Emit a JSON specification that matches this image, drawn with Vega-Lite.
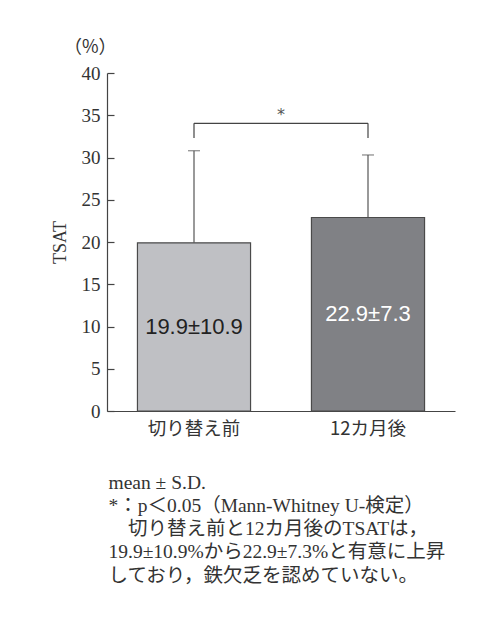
{
  "$schema": "https://vega.github.io/schema/vega-lite/v6.json",
  "autosize": "none",
  "width": 348,
  "height": 338,
  "padding": {"left": 107, "top": 73, "right": 37, "bottom": 210},
  "background": "white",
  "config": {"view": {"stroke": null}, "axis": {"grid": false}},
  "title": {"text": "（%）", "anchor": "start", "frame": "group", "dx": -43, "offset": 7, "font": "Noto Sans CJK JP", "fontSize": 18, "fontWeight": "normal", "color": "#333"},
  "datasets": {
    "bars": [
      {"group": "切り替え前", "mean": 19.9, "upper": 30.8, "label": "19.9±10.9"},
      {"group": "12カ月後", "mean": 22.9, "upper": 30.3, "label": "22.9±7.3"}
    ],
    "legs": [
      {"group": "切り替え前", "low": 32.3, "top": 34.05},
      {"group": "12カ月後", "low": 32.3, "top": 34.05}
    ],
    "bridge": [
      {"group": "切り替え前", "group2": "12カ月後", "top": 34.05, "star": 35.0, "mark": "*"}
    ]
  },
  "encoding": {
    "x": {
      "field": "group", "type": "nominal",
      "scale": {"domain": ["切り替え前", "12カ月後"], "paddingInner": 0.35, "paddingOuter": 0.175},
      "axis": {
        "ticks": false, "labelAngle": 0, "labelFont": "Noto Sans CJK JP", "labelFontSize": 18.5, "labelColor": "#333", "labelPadding": 8,
        "domainColor": "#444", "domainWidth": 1.2,
        "title": ["mean ± S.D.", "*：p＜0.05（Mann-Whitney U-検定）", "\u200b\u3000切り替え前と12カ月後のTSATは，", "19.9±10.9%から22.9±7.3%と有意に上昇", "しており，鉄欠乏を認めていない。"],
        "titleFont": "'Liberation Serif', 'Noto Sans CJK JP'", "titleFontSize": 19.5, "titleFontWeight": "normal", "titleColor": "#333",
        "titleAnchor": "start", "titleAlign": "left", "titleBaseline": "alphabetic", "titleX": 1, "titleY": 77, "titleLineHeight": 23.3
      }
    }
  },
  "layer": [
    {
      "data": {"name": "bars"},
      "mark": {"type": "rule", "color": "#555", "strokeWidth": 1.2},
      "encoding": {
        "y": {"field": "mean", "type": "quantitative", "title": "TSAT", "scale": {"domain": [0, 40], "nice": false},
          "axis": {"values": [0, 5, 10, 15, 20, 25, 30, 35, 40], "tickSize": -7, "tickColor": "#444", "tickWidth": 1.2, "domainColor": "#444", "domainWidth": 1.2,
            "labelFont": "Liberation Serif", "labelFontSize": 19, "labelColor": "#333", "labelPadding": 14,
            "titleFont": "Liberation Serif", "titleFontSize": 18, "titleFontWeight": "normal", "titleColor": "#333", "titlePadding": 12}},
        "y2": {"field": "upper"}
      }
    },
    {
      "data": {"name": "bars"},
      "mark": {"type": "tick", "color": "#555", "size": 12, "thickness": 1.2},
      "encoding": {"y": {"field": "upper", "type": "quantitative", "title": "TSAT"}}
    },
    {
      "data": {"name": "bars"},
      "mark": {"type": "bar", "stroke": "#4a4a4a", "strokeWidth": 1.2},
      "encoding": {
        "y": {"field": "mean", "type": "quantitative", "title": "TSAT"},
        "color": {"field": "group", "type": "nominal", "scale": {"domain": ["切り替え前", "12カ月後"], "range": ["#bfc0c4", "#808185"]}, "legend": null}
      }
    },
    {
      "data": {"name": "bars"},
      "transform": [{"calculate": "datum.mean / 2", "as": "mid"}],
      "mark": {"type": "text", "font": "Liberation Sans", "fontSize": 22, "baseline": "middle"},
      "encoding": {
        "y": {"field": "mid", "type": "quantitative", "title": "TSAT"},
        "text": {"field": "label"},
        "fill": {"field": "group", "type": "nominal", "scale": {"domain": ["切り替え前", "12カ月後"], "range": ["#222222", "#ffffff"]}, "legend": null}
      }
    },
    {
      "data": {"name": "legs"},
      "mark": {"type": "rule", "color": "#444", "strokeWidth": 1.2},
      "encoding": {
        "y": {"field": "low", "type": "quantitative", "title": "TSAT"},
        "y2": {"field": "top"}
      }
    },
    {
      "data": {"name": "bridge"},
      "mark": {"type": "rule", "color": "#444", "strokeWidth": 1.2},
      "encoding": {
        "x2": {"field": "group2"},
        "y": {"field": "top", "type": "quantitative", "title": "TSAT"}
      }
    },
    {
      "data": {"name": "bridge"},
      "mark": {"type": "text", "font": "DejaVu Sans", "fontSize": 16, "baseline": "middle", "color": "#555"},
      "encoding": {
        "x": {"field": "group", "type": "nominal", "bandPosition": 1.27},
        "y": {"field": "star", "type": "quantitative", "title": "TSAT"},
        "text": {"field": "mark"}
      }
    }
  ]
}
